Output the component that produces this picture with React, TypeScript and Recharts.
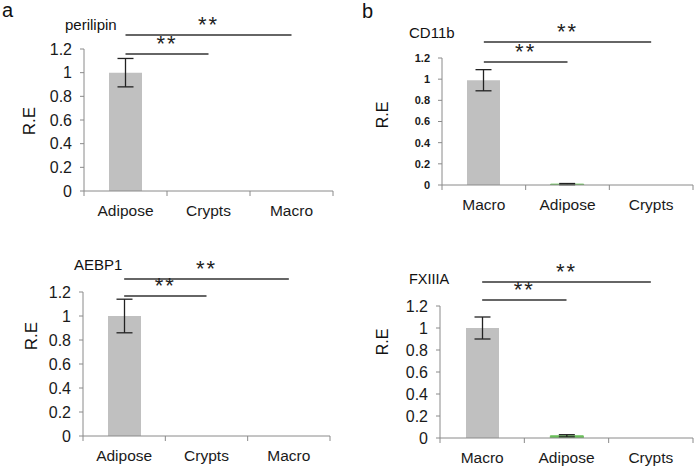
import React from 'react';
import { BarChart, Bar, XAxis, YAxis, Cell, ErrorBar, ReferenceLine } from 'recharts';

const FONT = '"Liberation Sans", Arial, sans-serif';
const GRAY = '#c0c0c0';
const GREEN = '#6cc05c';
const AXIS = '#8a8a8a';

// categories
const groupsA = ['Adipose', 'Crypts', 'Macro'];
const groupsB = ['Macro', 'Adipose', 'Crypts'];
const yTicks = [0, 0.2, 0.4, 0.6, 0.8, 1, 1.2];

// relative expression (mean, error)
const perilipin = [1, 0, 0];
const perilipinErr = [0.12, 0, 0];
const cd11b = [0.99, 0.008, 0];
const cd11bErr = [0.1, 0.006, 0];
const aebp1 = [1, 0, 0];
const aebp1Err = [0.14, 0, 0];
const fxiiia = [1, 0.02, 0];
const fxiiiaErr = [0.1, 0.01, 0];

// significance brackets: compared group and bracket height (in R.E units)
const perilipinSig = [{ to: 'Crypts', y: 1.158 }, { to: 'Macro', y: 1.319 }];
const cd11bSig = [{ to: 'Adipose', y: 1.162 }, { to: 'Crypts', y: 1.351 }];
const aebp1Sig = [{ to: 'Crypts', y: 1.167 }, { to: 'Macro', y: 1.308 }];
const fxiiiaSig = [{ to: 'Adipose', y: 1.255 }, { to: 'Crypts', y: 1.418 }];

const CatTick = (p: any) => {
  const { x, y, payload, index, band, count } = p;
  return (
    <g>
      <line x1={x - band / 2} x2={x - band / 2} y1={y} y2={y + 5} stroke={AXIS} />
      {index === count - 1 && (
        <line x1={x + band / 2} x2={x + band / 2} y1={y} y2={y + 5} stroke={AXIS} />
      )}
      <text x={x} y={y + 24.5} textAnchor="middle" fontSize={15.5} fontFamily={FONT} fill="#1a1a1a">
        {payload.value}
      </text>
    </g>
  );
};

interface PanelProps {
  left: number;
  top: number;
  width: number;
  height: number;
  plot: number[]; // l, t, r, b inside the panel box
  cats: string[];
  values: number[];
  errs: number[];
  sig: { to: string; y: number }[];
  green?: string;
  tickSize: number;
  tickBold?: boolean;
}

const Panel = ({ left, top, width, height, plot, cats, values, errs, sig, green, tickSize, tickBold }: PanelProps) => {
  const data = cats.map((c, i) => ({ name: c, value: values[i], err: errs[i] || undefined }));
  const [l, t, r, b] = plot;
  const xh = 25;
  const yw = 40;
  const band = (r - l) / cats.length;
  return (
    <div style={{ position: 'absolute', left, top }}>
      <BarChart
        width={width}
        height={height}
        data={data}
        margin={{ top: t, right: width - r, bottom: height - b - xh, left: l - yw }}
        barSize={33}
      >
        <XAxis
          dataKey="name"
          height={xh}
          stroke={AXIS}
          tickLine={false}
          tickSize={0}
          tickMargin={0}
          interval={0}
          tick={(p: any) => <CatTick {...p} band={band} count={cats.length} />}
        />
        <YAxis
          width={yw}
          domain={[0, 1.2]}
          ticks={yTicks}
          interval={0}
          stroke={AXIS}
          tickSize={4}
          tickMargin={8}
          allowDataOverflow
          tick={{ fill: '#1a1a1a', fontSize: tickSize, fontWeight: tickBold ? 'bold' : 'normal', fontFamily: FONT }}
        />
        <Bar dataKey="value" isAnimationActive={false}>
          {data.map((d) => (
            <Cell
              key={d.name}
              fill={d.name === green ? GREEN : GRAY}
              stroke={d.name === green ? GREEN : 'none'}
              strokeWidth={1}
            />
          ))}
          <ErrorBar dataKey="err" width={8} stroke="#222" strokeWidth={1.3} />
        </Bar>
        {sig.map((s) => (
          <ReferenceLine
            key={s.to}
            segment={[{ x: cats[0], y: s.y }, { x: s.to, y: s.y }]}
            ifOverflow="visible"
            stroke="#333"
            strokeWidth={1.5}
            label={{ value: '**', position: 'top', offset: 3, fontSize: 22, fill: '#222', fontFamily: FONT, letterSpacing: 2 }}
          />
        ))}
      </BarChart>
    </div>
  );
};

const App: React.FC = () => {
  return (
    <div style={{ position: 'absolute', left: 0, top: 0, width: 697, height: 467, background: '#fff', fontFamily: FONT }}>
      <Panel left={0} top={0} width={350} height={230} plot={[84, 49, 333, 191]}
        cats={groupsA} values={perilipin} errs={perilipinErr} sig={perilipinSig} tickSize={16} />
      <Panel left={350} top={0} width={347} height={230} plot={[92, 58, 343, 185]}
        cats={groupsB} values={cd11b} errs={cd11bErr} sig={cd11bSig} green="Adipose" tickSize={11} tickBold />
      <Panel left={0} top={230} width={350} height={237} plot={[83, 62, 330, 206]}
        cats={groupsA} values={aebp1} errs={aebp1Err} sig={aebp1Sig} tickSize={16} />
      <Panel left={350} top={230} width={347} height={237} plot={[90, 76, 343, 208]}
        cats={groupsB} values={fxiiia} errs={fxiiiaErr} sig={fxiiiaSig} green="Adipose" tickSize={16} />

      {/* panel letters, gene titles, axis titles */}
      <svg width={697} height={467} style={{ position: 'absolute', left: 0, top: 0, pointerEvents: 'none' }}>
        <g fontFamily={FONT} fill="#111">
          <text x={2} y={17} fontSize={20}>a</text>
          <text x={362} y={18} fontSize={20}>b</text>
          <text x={65} y={30} fontSize={15}>perilipin</text>
          <text x={409} y={37.5} fontSize={15}>CD11b</text>
          <text x={74} y={270} fontSize={15}>AEBP1</text>
          <text x={409} y={284} fontSize={14.5}>FXIIIA</text>
          <text x={35} y={121} fontSize={17} textAnchor="middle" transform="rotate(-90,35,121)">R.E</text>
          <text x={388} y={115} fontSize={16} textAnchor="middle" transform="rotate(-90,388,115)">R.E</text>
          <text x={37} y={336} fontSize={17} textAnchor="middle" transform="rotate(-90,37,336)">R.E</text>
          <text x={388} y={342} fontSize={16} textAnchor="middle" transform="rotate(-90,388,342)">R.E</text>
        </g>
      </svg>
    </div>
  );
};

export default App;
